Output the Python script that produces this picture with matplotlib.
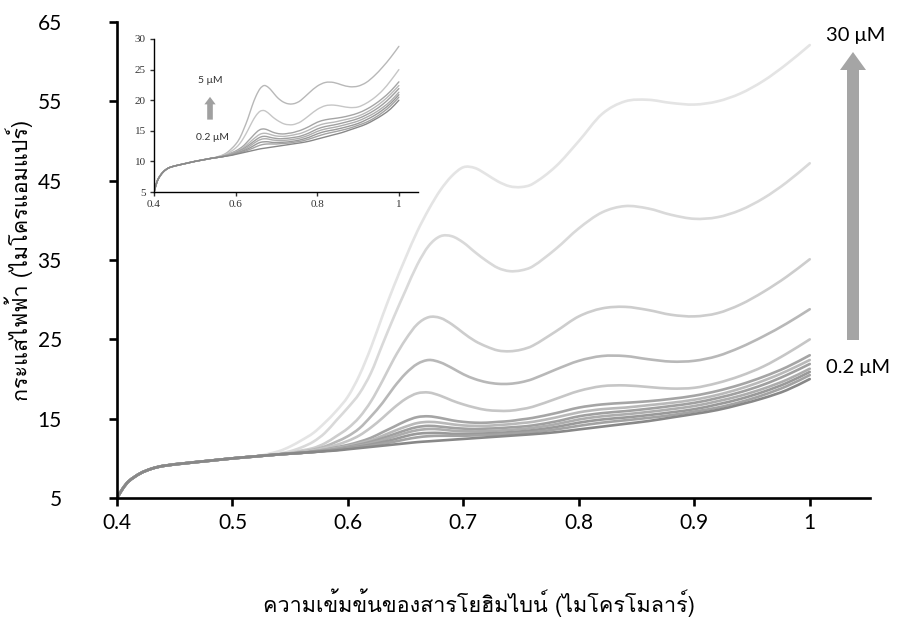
import matplotlib
matplotlib.use("Agg")
import numpy as np
import matplotlib.pyplot as plt
from matplotlib import font_manager, ft2font
from matplotlib.patches import FancyArrow, PathPatch
from matplotlib.path import Path
from matplotlib.transforms import IdentityTransform

# voltammograms of yohimbine, current (uA) against potential
# shared rising foot, identical for every concentration
x_head = [0.40, 0.405, 0.41, 0.42, 0.43, 0.44, 0.46, 0.48, 0.50, 0.52]
y_head = [5.0, 6.2, 7.1, 8.1, 8.7, 9.05, 9.4, 9.7, 10.0, 10.25]

x_tail = [0.54, 0.55,
          0.56, 0.57, 0.58, 0.59, 0.60, 0.61, 0.62, 0.63, 0.64, 0.65, 0.66,
          0.67, 0.68, 0.69, 0.70, 0.71, 0.72, 0.73, 0.74, 0.75, 0.76,
          0.78, 0.80, 0.82, 0.84, 0.86, 0.88, 0.90, 0.92, 0.94, 0.96, 0.98, 1.00]

i_30uM = [10.9, 11.5, 12.3, 13.2, 14.5, 16.0, 17.8, 20.5, 24.0, 28.0, 31.8, 35.3, 38.6,
          41.4, 43.8, 45.6, 46.7, 46.6, 45.8, 44.9, 44.3, 44.2, 44.6,
          46.8, 50.0, 53.4, 55.0, 55.2, 54.8, 54.6, 55.0, 56.0, 57.6, 59.7, 62.1]
i_20uM = [10.6, 10.9, 11.4, 12.1, 13.2, 14.8, 16.4, 18.2, 20.8, 24.4, 27.9, 31.2, 34.4,
          36.8, 38.0, 38.0, 37.2, 36.0, 34.9, 34.0, 33.6, 33.7, 34.2,
          36.4, 39.0, 41.0, 41.8, 41.5, 40.7, 40.2, 40.4, 41.3, 42.8, 44.8, 47.2]
i_10uM = [10.5, 10.7, 11.0, 11.3, 11.9, 12.8, 13.8, 15.2, 17.2, 19.8, 22.6, 25.0, 26.9,
          27.8, 27.7, 26.9, 25.8, 24.8, 24.1, 23.6, 23.5, 23.7, 24.2,
          26.0, 27.9, 28.9, 29.1, 28.7, 28.1, 27.9, 28.3, 29.4, 31.0, 32.9, 35.1]
i_5uM = [10.5, 10.65, 10.85, 11.1, 11.5, 12.1, 12.8, 13.8, 15.3, 17.0, 19.0, 20.7, 21.9,
         22.4, 22.1, 21.4, 20.6, 20.0, 19.6, 19.4, 19.4, 19.6, 20.0,
         21.2, 22.3, 22.9, 22.9, 22.5, 22.2, 22.3, 22.9, 24.0, 25.4, 27.0, 28.8]
i_4uM = [10.5, 10.6, 10.8, 11.0, 11.3, 11.7, 12.2, 12.9, 13.9, 15.1, 16.4, 17.5, 18.2,
         18.3, 17.9, 17.3, 16.8, 16.4, 16.1, 16.0, 16.0, 16.2, 16.5,
         17.5, 18.5, 19.1, 19.2, 19.0, 18.8, 18.9, 19.5, 20.4, 21.6, 23.2, 25.0]
i_3uM = [10.5, 10.6, 10.7, 10.9, 11.1, 11.4, 11.7, 12.1, 12.6, 13.3, 14.0, 14.7, 15.2,
         15.3, 15.1, 14.8, 14.6, 14.5, 14.5, 14.6, 14.7, 14.9, 15.1,
         15.7, 16.4, 16.8, 17.0, 17.2, 17.5, 17.9, 18.5, 19.3, 20.3, 21.5, 23.0]
i_2uM = [10.5, 10.6, 10.7, 10.85, 11.05, 11.3, 11.55, 11.9, 12.3, 12.85, 13.45, 14.0, 14.45,
         14.6, 14.5, 14.3, 14.15, 14.1, 14.1, 14.2, 14.3, 14.45, 14.6,
         15.15, 15.8, 16.2, 16.4, 16.7, 17.0, 17.4, 18.0, 18.8, 19.8, 21.0, 22.4]
i_1_5uM = [10.5, 10.6, 10.7, 10.85, 11.0, 11.2, 11.45, 11.75, 12.1, 12.55, 13.05, 13.55, 13.95,
           14.1, 14.0, 13.85, 13.75, 13.7, 13.75, 13.8, 13.9, 14.0, 14.15,
           14.65, 15.3, 15.7, 15.95, 16.25, 16.6, 17.0, 17.6, 18.35, 19.3, 20.5, 21.9]
i_1uM = [10.5, 10.6, 10.7, 10.8, 10.95, 11.15, 11.35, 11.6, 11.9, 12.3, 12.75, 13.2, 13.55,
         13.7, 13.65, 13.5, 13.45, 13.4, 13.45, 13.5, 13.6, 13.7, 13.85,
         14.3, 14.9, 15.3, 15.55, 15.85, 16.2, 16.6, 17.2, 17.9, 18.8, 19.9, 21.3]
i_0_6uM = [10.5, 10.6, 10.7, 10.8, 10.95, 11.1, 11.3, 11.5, 11.75, 12.05, 12.4, 12.8, 13.1,
           13.2, 13.2, 13.1, 13.1, 13.1, 13.15, 13.2, 13.3, 13.4, 13.55,
           13.95, 14.5, 14.9, 15.15, 15.45, 15.8, 16.2, 16.8, 17.5, 18.4, 19.5, 20.9]
i_0_4uM = [10.5, 10.6, 10.7, 10.8, 10.95, 11.05, 11.25, 11.4, 11.6, 11.85, 12.1, 12.4, 12.65,
           12.8, 12.85, 12.85, 12.85, 12.9, 12.95, 13.0, 13.1, 13.2, 13.3,
           13.65, 14.1, 14.5, 14.8, 15.1, 15.45, 15.9, 16.4, 17.1, 18.0, 19.1, 20.5]
i_0_2uM = [10.5, 10.6, 10.7, 10.8, 10.9, 11.0, 11.15, 11.3, 11.45, 11.6, 11.75, 11.9, 12.05,
           12.15, 12.25, 12.35, 12.45, 12.55, 12.65, 12.75, 12.85, 12.95, 13.05,
           13.3, 13.65, 14.0, 14.35, 14.7, 15.15, 15.6, 16.1, 16.8, 17.6, 18.6, 20.0]

# highest concentration first so the darker low traces end up on top
series = [i_30uM, i_20uM, i_10uM, i_5uM, i_4uM, i_3uM, i_2uM, i_1_5uM, i_1uM,
          i_0_6uM, i_0_4uM, i_0_2uM]
colors = ['#e4e4e4', '#d9d9d9', '#cdcdcd', '#b8b8b8', '#c6c6c6', '#a5a5a5',
          '#b9b9b9', '#a0a0a0', '#adadad', '#999999', '#a3a3a3', '#888888']
n_inset = 9  # 0.2 - 5 uM

main_yticks = [5, 15, 25, 35, 45, 55, 65]
main_xticks = [0.4, 0.5, 0.6, 0.7, 0.8, 0.9, 1.0]
main_xlabels = ['0.4', '0.5', '0.6', '0.7', '0.8', '0.9', '1']
inset_yticks = [5, 10, 15, 20, 25, 30]
inset_xticks = [0.4, 0.6, 0.8, 1.0]
inset_xlabels = ['0.4', '0.6', '0.8', '1']

xlabel = 'ความเข้มข้นของสารโยฮิมไบน์ (ไมโครโมลาร์)'
ylabel = 'กระแสไฟฟ้า (ไมโครแอมแปร์)'


def find_thai_font():
    for f in font_manager.fontManager.ttflist:
        try:
            if 0x0E01 in ft2font.FT2Font(f.fname).get_charmap():
                return f.name
        except Exception:
            pass
    return None


def smooth_line(ax, xs, ys, **kw):
    # smoothed line like a spreadsheet chart: cubic Hermite segments through every point
    xs = np.asarray(xs, float)
    ys = np.asarray(ys, float)
    m = np.empty_like(ys)
    m[1:-1] = (ys[2:] - ys[:-2]) / (xs[2:] - xs[:-2])
    m[0] = (ys[1] - ys[0]) / (xs[1] - xs[0])
    m[-1] = (ys[-1] - ys[-2]) / (xs[-1] - xs[-2])
    verts = [(xs[0], ys[0])]
    codes = [Path.MOVETO]
    for i in range(len(xs) - 1):
        h = xs[i + 1] - xs[i]
        verts += [(xs[i] + h / 3, ys[i] + m[i] * h / 3),
                  (xs[i + 1] - h / 3, ys[i + 1] - m[i + 1] * h / 3),
                  (xs[i + 1], ys[i + 1])]
        codes += [Path.CURVE4] * 3
    ax.add_patch(PathPatch(Path(verts, codes), fill=False, capstyle='round',
                           joinstyle='round', **kw))


thai = find_thai_font()
thai_fam = ([thai] if thai else []) + ['DejaVu Sans']
plt.rcParams['font.family'] = ['Lato', 'DejaVu Sans']

fig = plt.figure(figsize=(9.18, 6.21), dpi=100)
ax = fig.add_axes([0.1275, 0.198, 0.820, 0.7665])

for ys, c in zip(series, colors):
    smooth_line(ax, x_head + x_tail, y_head + ys, ec=c, lw=1.9)

ax.set_xlim(0.4, 1.052)
ax.set_ylim(5, 65)
ax.set_xticks(main_xticks)
ax.set_xticklabels(main_xlabels)
ax.set_yticks(main_yticks)
for s in ['top', 'right']:
    ax.spines[s].set_visible(False)
for s in ['left', 'bottom']:
    ax.spines[s].set_linewidth(1.9)
ax.tick_params(direction='out', length=5.8, width=1.9, labelsize=15)
ax.tick_params(axis='x', pad=5)
ax.tick_params(axis='y', pad=34)
ax.set_xlabel(xlabel, family=thai_fam, fontsize=15.5, labelpad=26)
ax.xaxis.set_label_coords(0.481, -0.19)
ax.set_ylabel(ylabel, family=thai_fam, fontsize=15.5, labelpad=6)
ax.yaxis.set_label_coords(-0.111, 0.5)

# concentration arrow on the right
fig.patches.append(FancyArrow(853, 281, 0, 270, width=12, head_width=26, head_length=18,
                              length_includes_head=False, color='#a5a5a5', lw=0,
                              transform=IdentityTransform(), figure=fig))
fig.text(856 / 918, 1 - 36 / 621, '30 μM', ha='center', va='center', fontsize=14.5)
fig.text(858 / 918, 1 - 368 / 621, '0.2 μM', ha='center', va='center', fontsize=14.5)

# inset: low concentrations
ins = fig.add_axes([0.1678, 0.6908, 0.2876, 0.2464])
for ys, c in zip(series[-n_inset:], colors[-n_inset:]):
    smooth_line(ins, x_head + x_tail, y_head + ys, ec=c, lw=1.0)
ins.set_xlim(0.4, 1.047)
ins.set_ylim(5, 30)
ins.set_xticks(inset_xticks)
ins.set_xticklabels(inset_xlabels)
ins.set_yticks(inset_yticks)
for s in ['top', 'right']:
    ins.spines[s].set_visible(False)
for s in ['left', 'bottom']:
    ins.spines[s].set_linewidth(1.0)
ins.tick_params(direction='out', length=3, width=1.0, labelsize=8, pad=3, colors='#333333')
for lab in ins.get_xticklabels() + ins.get_yticklabels():
    lab.set_family('Liberation Serif')
ins.annotate('', xy=(0.212, 0.64), xytext=(0.212, 0.455), xycoords='axes fraction',
             arrowprops=dict(arrowstyle='simple,head_width=0.9,head_length=0.6,tail_width=0.45',
                             fc='#a0a0a0', ec='none', mutation_scale=9))
ins.text(0.212, 0.732, '5 μM', transform=ins.transAxes, ha='center', va='center',
         fontsize=7.5, color='#333333')
ins.text(0.223, 0.353, '0.2 μM', transform=ins.transAxes, ha='center', va='center',
         fontsize=7.5, color='#333333')

fig.savefig('out.png', dpi=100)
